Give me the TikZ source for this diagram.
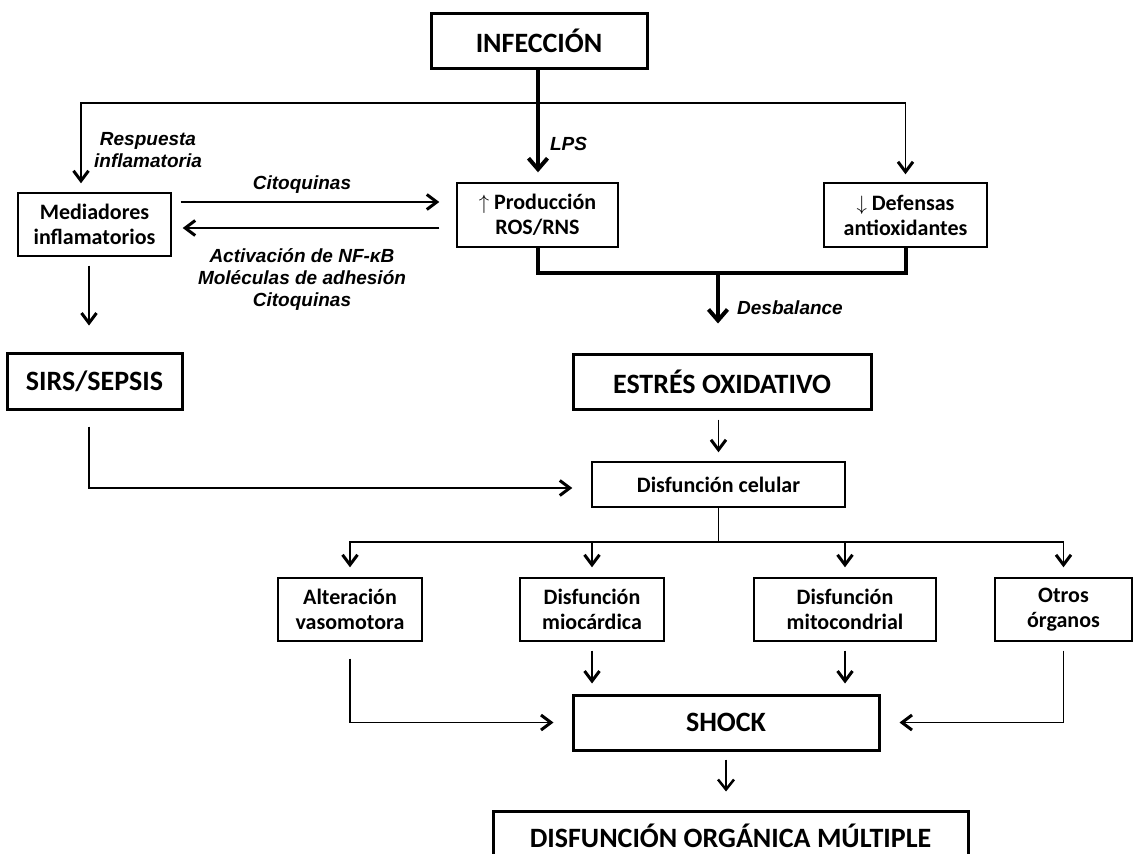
\documentclass[tikz,border=0pt]{standalone}
\usepackage{fontspec}
\setmainfont{Carlito}
\newfontfamily\labelfont{Liberation Sans}
\usetikzlibrary{arrows.meta}

\begin{document}
\begin{tikzpicture}[x=1pt,y=-1pt,
	box/.style={draw, line width=1.4pt, align=center, inner sep=0pt, font=\fontsize{22}{25}\selectfont\bfseries},
	bigbox/.style={draw, line width=3pt, align=center, inner sep=0pt, minimum height=55pt, font=\fontsize{28}{32}\selectfont\bfseries},
	lab/.style={align=center, inner sep=0pt, font=\labelfont\fontsize{19}{22}\selectfont\bfseries\itshape},
	arr/.style={line width=1.5pt, -{Straight Barb[length=10pt,width=15pt,line width=3pt]}},
	midarr/.style={line width=2.5pt, -{Straight Barb[length=10pt,width=16pt]}},
	boldline/.style={line width=4pt},
	boldarr/.style={line width=4pt, -{Straight Barb[length=11pt,width=19pt]}}]
	\useasboundingbox (0,0) rectangle (1133,854);
	\clip (0,0) rectangle (1133,854);

	\node[bigbox, minimum width=216pt] (infec) at (539,40.5) {INFECCIÓN};
	\node[box, minimum width=153pt, minimum height=63pt] (media) at (94.5,224.5) {Mediadores\\inflamatorios};
	\node[box, minimum width=161pt, minimum height=64pt] (ros) at (537.5,215) {$\uparrow$ Producción\\ROS/RNS};
	\node[box, minimum width=163pt, minimum height=64pt] (defen) at (905.5,215) {$\downarrow$ Defensas\\antioxidantes};
	\node[bigbox, minimum width=175pt, minimum height=56pt] (sirs) at (94.5,381) {SIRS/SEPSIS};
	\node[bigbox, minimum width=298pt] (estres) at (722,381.5) {ESTRÉS OXIDATIVO};
	\node[box, minimum width=253pt, minimum height=45pt] (celular) at (718.5,484.5) {Disfunción celular};
	\node[box, minimum width=144pt, minimum height=63pt] (alter) at (350,609.5) {Alteración\\vasomotora};
	\node[box, minimum width=144pt, minimum height=63pt] (mioc) at (592,609.5) {Disfunción\\miocárdica};
	\node[box, minimum width=182pt, minimum height=63pt] (mitoc) at (845,609.5) {Disfunción\\mitocondrial};
	\node[box, minimum width=137pt, minimum height=63pt] (otros) at (1063.5,609.5) {Otros\\órganos};
	\node[bigbox, minimum width=306pt] (shock) at (726,722.5) {SHOCK};
	\node[bigbox, minimum width=475pt, minimum height=50pt] (dom) at (730.5,836) {DISFUNCIÓN ORGÁNICA MÚLTIPLE};

	\node[lab] (resp) at (148,150) {Respuesta\\inflamatoria};
	\node[lab] (lps) at (568.5,144) {LPS};
	\node[lab] (cito) at (302,185) {Citoquinas};
	\node[lab] (activ) at (302,279) {Activación de NF-κB\\Moléculas de adhesión\\Citoquinas};
	\node[lab, anchor=west] (desb) at (737,308) {Desbalance};

	\coordinate (split) at (538,103);
	\coordinate (bal) at (718,273);
	\coordinate (fork) at (718.5,542);

	\draw[arr, shorten >=9pt] (split) -| ([xshift=-13.5pt]media.north);
	\draw[arr, shorten >=8pt] (split) -| (defen.north);
	\draw[boldarr, shorten >=10pt] (infec.south -| split) -- (ros.north -| split);

	\draw[arr, shorten <=9pt, shorten >=17pt] ([yshift=22.5pt]media.east) -- ([yshift=13pt]ros.west);
	\draw[arr, shorten <=17pt, shorten >=11pt] ([yshift=-13pt]ros.west) -- ([yshift=-3.5pt]media.east);
	\draw[arr, shorten <=9pt, shorten >=26pt] ([xshift=-5.5pt]media.south) -- ([xshift=-5.5pt]sirs.north);

	\draw[boldline] (ros.south) |- (bal) -| (defen.south);
	\draw[boldarr, shorten >=29pt] (bal) -- (bal |- estres.north);

	\draw[arr, shorten <=9pt, shorten >=9pt] (celular.north |- estres.south) -- (celular.north);
	\draw[arr, shorten <=16pt, shorten >=19pt] ([xshift=-5.5pt]sirs.south) |- ([yshift=-3.5pt]celular.west);

	\draw[line width=1.5pt] (celular.south) -- (fork);
	\foreach \n in {alter,mioc,mitoc,otros}
		\draw[arr, shorten >=10pt] (fork) -| (\n.north);

	\draw[arr, shorten <=17pt, shorten >=18pt] (alter.south) |- (shock.west);
	\foreach \n in {mioc,mitoc}
		\draw[arr, shorten <=9pt, shorten >=10pt] (\n.south) -- (\n.south |- shock.north);
	\draw[arr, shorten <=9pt, shorten >=19pt] (otros.south) |- (shock.east);
	\draw[midarr, shorten <=8pt, shorten >=18pt] (shock.south) -- (shock.south |- dom.north);
\end{tikzpicture}
\end{document}
